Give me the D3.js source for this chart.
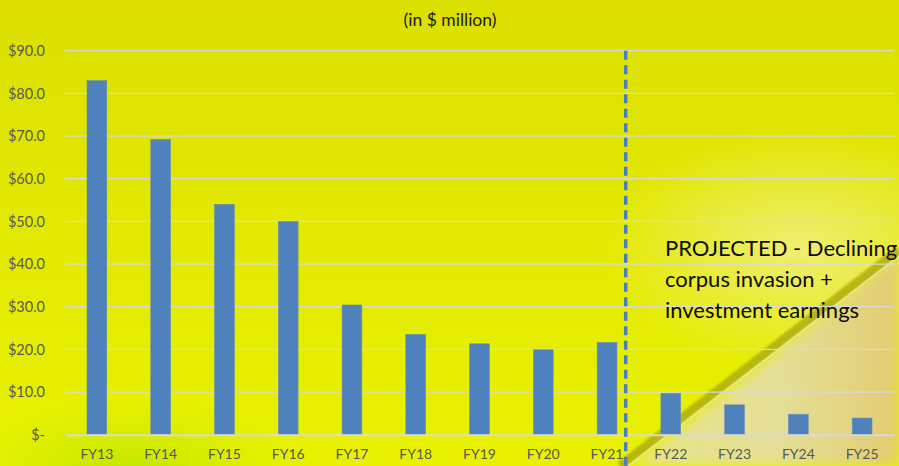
<!DOCTYPE html>
<html>
<head>
<meta charset="utf-8">
<script src="https://cdn.jsdelivr.net/npm/d3@7"></script>
<style>
  body { margin: 0; padding: 0; overflow: hidden; }
  #chart { width: 899px; height: 466px; }
</style>
</head>
<body>
<div id="chart"></div>
<script>
// data
const years = ["FY13", "FY14", "FY15", "FY16", "FY17", "FY18", "FY19", "FY20", "FY21", "FY22", "FY23", "FY24", "FY25"];
const values = [83.0, 69.2, 54.0, 50.0, 30.4, 23.5, 21.3, 19.9, 21.6, 9.7, 7.0, 4.8, 3.9];
const yTicks = [0, 10, 20, 30, 40, 50, 60, 70, 80, 90];
const noteLines = ["PROJECTED - Declining", "corpus invasion +", "investment earnings"];
const lastActual = "FY21";

const W = 899, H = 466;
const margin = { top: 50, right: 5, bottom: 32, left: 65 };
const width = W - margin.left - margin.right,
  height = H - margin.top - margin.bottom;

const font = "Lato, 'Open Sans', sans-serif";

const svg = d3.select("#chart").append("svg")
  .attr("width", W)
  .attr("height", H);

// background
const defs = svg.append("defs");
const bg = defs.append("linearGradient").attr("id", "bg")
  .attr("x1", 0).attr("y1", 0).attr("x2", 0).attr("y2", 1);
bg.append("stop").attr("offset", "0%").attr("stop-color", "#dcdf00");
bg.append("stop").attr("offset", "45%").attr("stop-color", "#e2e800");
bg.append("stop").attr("offset", "100%").attr("stop-color", "#e8f200");

const green = defs.append("radialGradient").attr("id", "green")
  .attr("cx", 0.5).attr("cy", 0.5).attr("r", 0.5);
green.append("stop").attr("offset", "0%").attr("stop-color", "#b8e400").attr("stop-opacity", 0.8);
green.append("stop").attr("offset", "100%").attr("stop-color", "#c8e800").attr("stop-opacity", 0);

const glow = defs.append("radialGradient").attr("id", "glow")
  .attr("cx", 0.5).attr("cy", 0.5).attr("r", 0.5);
glow.append("stop").attr("offset", "0%").attr("stop-color", "#f0ee80").attr("stop-opacity", 0.9);
glow.append("stop").attr("offset", "100%").attr("stop-color", "#f0ee80").attr("stop-opacity", 0);

const pale = defs.append("linearGradient").attr("id", "pale")
  .attr("x1", 0).attr("y1", 0).attr("x2", 1).attr("y2", 0);
pale.append("stop").attr("offset", "0%").attr("stop-color", "#e6e486");
pale.append("stop").attr("offset", "55%").attr("stop-color", "#e4df98");
pale.append("stop").attr("offset", "100%").attr("stop-color", "#e2cc70");

defs.append("filter").attr("id", "soft")
  .append("feGaussianBlur").attr("stdDeviation", 1.2);
defs.append("filter").attr("id", "softer")
  .append("feGaussianBlur").attr("stdDeviation", 6);

svg.append("rect").attr("width", W).attr("height", H).attr("fill", "url(#bg)");
svg.append("ellipse").attr("cx", 130).attr("cy", 470).attr("rx", 170).attr("ry", 70).attr("fill", "url(#green)");
svg.append("ellipse").attr("cx", 800).attr("cy", 250).attr("rx", 200).attr("ry", 120).attr("fill", "url(#glow)");
svg.append("polygon")
  .attr("points", "632,466 899,256 899,466")
  .attr("fill", "url(#pale)")
  .attr("filter", "url(#softer)");
svg.append("line")
  .attr("x1", 620).attr("y1", 466).attr("x2", 899).attr("y2", 250)
  .attr("stroke", "#b0ae08").attr("stroke-width", 9).attr("opacity", 0.85)
  .attr("filter", "url(#soft)");
svg.append("line")
  .attr("x1", 628).attr("y1", 466).attr("x2", 899).attr("y2", 256)
  .attr("stroke", "#f2f0c0").attr("stroke-width", 2).attr("opacity", 0.6);

const g = svg.append("g")
  .attr("transform", "translate(" + margin.left + "," + margin.top + ")");

// scales
const x = d3.scaleBand()
  .domain(years)
  .range([0, width])
  .paddingInner(0.69)
  .paddingOuter(0.345);

const y = d3.scaleLinear()
  .domain([0, 90])
  .range([height + 0.7, 0.7]);

// gridlines
g.append("g")
  .selectAll("line")
  .data(yTicks.filter(d => d > 0))
  .enter()
  .append("line")
  .attr("x1", 0).attr("x2", width)
  .attr("y1", d => y(d)).attr("y2", d => y(d))
  .attr("stroke", "#d9d9d9")
  .attr("stroke-width", 1.3);

// Y axis
const yAxis = g.append("g")
  .call(d3.axisLeft(y)
    .tickValues(yTicks)
    .tickSize(0)
    .tickPadding(20)
    .tickFormat(d => d === 0 ? "$-" : "$" + d.toFixed(1)));
yAxis.select(".domain").remove();
yAxis.selectAll("text")
  .attr("fill", "#595959")
  .style("font-family", font)
  .style("font-size", "14.5px");

// bars
g.append("g")
  .selectAll("rect")
  .data(years)
  .enter()
  .append("rect")
  .attr("x", d => x(d))
  .attr("y", (d, i) => y(values[i]))
  .attr("width", x.bandwidth())
  .attr("height", (d, i) => y(0) - y(values[i]))
  .attr("fill", "#4f81bd")
  .attr("stroke", "#6b8fb0")
  .attr("stroke-width", 0.6);

// X axis
const xAxis = g.append("g")
  .attr("transform", "translate(0," + y(0) + ")")
  .call(d3.axisBottom(x).tickSize(0).tickPadding(14));
xAxis.select(".domain")
  .attr("stroke", "#d9d9d9")
  .attr("stroke-width", 2);
xAxis.selectAll("text")
  .attr("fill", "#595959")
  .style("font-family", font)
  .style("font-size", "14px");

// dashed divider after the last actual year
const divX = x(lastActual) + x.bandwidth() + (x.step() - x.bandwidth()) * 0.2;
g.append("line")
  .attr("x1", divX).attr("x2", divX)
  .attr("y1", y(90)).attr("y2", H - margin.top)
  .attr("stroke", "#4a7ebf")
  .attr("stroke-width", 3.5)
  .attr("stroke-dasharray", "9,5.5");

// title
svg.append("text")
  .attr("x", 450)
  .attr("y", 26)
  .attr("text-anchor", "middle")
  .attr("fill", "#1a1a1a")
  .style("font-family", font)
  .style("font-size", "17.5px")
  .text("(in $ million)");

// projection note
svg.append("g")
  .selectAll("text")
  .data(noteLines)
  .enter()
  .append("text")
  .attr("x", 665)
  .attr("y", (d, i) => 256 + i * 31)
  .attr("fill", "#0d0d0d")
  .style("font-family", font)
  .style("font-size", "22px")
  .text(d => d);
</script>
</body>
</html>
